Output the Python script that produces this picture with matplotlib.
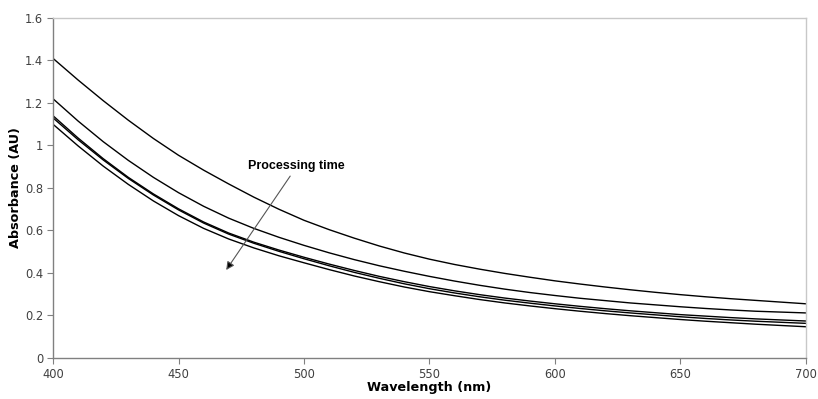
import matplotlib
matplotlib.use("Agg")
import matplotlib.pyplot as plt

# absorbance spectra, read every 10 nm off the reference
wavelength = list(range(400, 701, 10))
abs_t1 = [1.410, 1.308, 1.211, 1.119, 1.033, 0.954, 0.884, 0.819, 0.757, 0.700,
          0.648, 0.604, 0.564, 0.527, 0.494, 0.465, 0.440, 0.418, 0.398, 0.380,
          0.363, 0.348, 0.334, 0.321, 0.309, 0.298, 0.288, 0.279, 0.271, 0.263, 0.255]
abs_t2 = [1.220, 1.115, 1.018, 0.930, 0.850, 0.778, 0.714, 0.658, 0.610, 0.568,
          0.530, 0.495, 0.463, 0.434, 0.408, 0.384, 0.362, 0.342, 0.324, 0.308,
          0.294, 0.281, 0.270, 0.259, 0.250, 0.241, 0.233, 0.226, 0.220, 0.216, 0.212]
abs_t3 = [1.140, 1.035, 0.938, 0.850, 0.772, 0.702, 0.640, 0.588, 0.545, 0.508,
          0.474, 0.442, 0.412, 0.384, 0.359, 0.336, 0.316, 0.298, 0.282, 0.268,
          0.255, 0.243, 0.232, 0.222, 0.213, 0.204, 0.197, 0.190, 0.184, 0.179, 0.174]
abs_t4 = [1.130, 1.027, 0.932, 0.845, 0.767, 0.697, 0.635, 0.583, 0.540, 0.502,
          0.467, 0.434, 0.403, 0.375, 0.349, 0.326, 0.306, 0.288, 0.272, 0.258,
          0.245, 0.233, 0.222, 0.212, 0.203, 0.194, 0.186, 0.179, 0.173, 0.168, 0.163]
abs_t5 = [1.100, 0.998, 0.903, 0.817, 0.739, 0.670, 0.610, 0.560, 0.518, 0.481,
          0.448, 0.416, 0.386, 0.359, 0.334, 0.312, 0.293, 0.275, 0.259, 0.245,
          0.232, 0.220, 0.209, 0.199, 0.190, 0.181, 0.173, 0.166, 0.159, 0.153, 0.147]

x_ticks = [400, 450, 500, 550, 600, 650, 700]
y_ticks = [0, 0.2, 0.4, 0.6, 0.8, 1.0, 1.2, 1.4, 1.6]
y_labels = ["0", "0.2", "0.4", "0.6", "0.8", "1", "1.2", "1.4", "1.6"]

fig = plt.figure(figsize=(8.18, 3.99), dpi=100)
ax = fig.add_axes([0.0648, 0.1028, 0.9205, 0.8521])

for series in [abs_t1, abs_t2, abs_t3, abs_t4, abs_t5]:
    ax.plot(wavelength, series, color="black", lw=1.0)

ax.set_xlim(400, 700)
ax.set_ylim(0, 1.6)
ax.set_xticks(x_ticks)
ax.set_yticks(y_ticks)
ax.set_yticklabels(y_labels)
ax.tick_params(direction="out", length=4, width=0.8, colors="#808080",
               labelcolor="#404040", labelsize=8.3, pad=3)

for side in ["left", "bottom"]:
    ax.spines[side].set_color("#808080")
    ax.spines[side].set_linewidth(1.0)
for side in ["top", "right"]:
    ax.spines[side].set_color("#c8c8c8")
    ax.spines[side].set_linewidth(1.0)

ax.set_xlabel("Wavelength (nm)", fontsize=9.2, fontweight="bold", labelpad=0)
ax.set_ylabel("Absorbance (AU)", fontsize=9.2, fontweight="bold", labelpad=2)

ax.annotate("", xy=(469, 0.414), xytext=(494.5, 0.856),
            arrowprops=dict(arrowstyle="-|>", fc="black", ec="#555555", lw=0.8,
                            mutation_scale=12, shrinkA=0, shrinkB=0))
ax.text(497, 0.904, "Processing time", ha="center", va="center",
        fontsize=9, fontweight="bold", family="Liberation Sans")

fig.savefig("out.png", dpi=100)
